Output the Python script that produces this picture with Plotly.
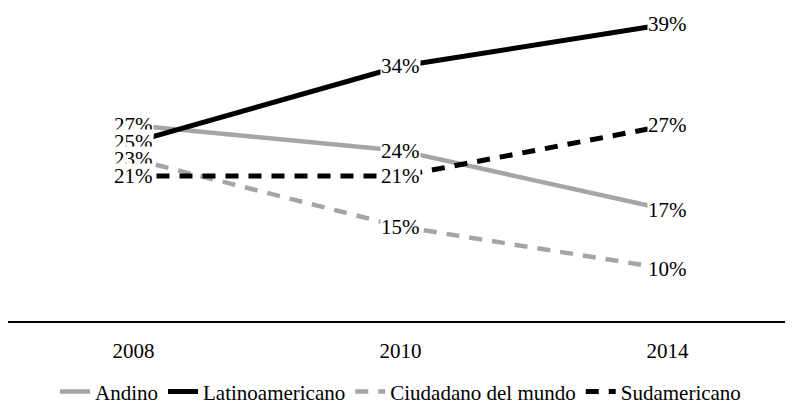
import plotly.graph_objects as go

# --- data ---
years = ["2008", "2010", "2014"]
andino = [27, 24, 17]
latinoamericano = [25, 34, 39]
ciudadano = [23, 15, 10]
sudamericano = [21, 21, 27]

GREY = "#a5a5a5"
BLACK = "#000000"
FONT = "Liberation Serif, DejaVu Serif, serif"

series = [
    ("Andino", andino, GREY, "solid", 4.5),
    ("Latinoamericano", latinoamericano, BLACK, "solid", 5),
    ("Ciudadano del mundo", ciudadano, GREY, "13px,10px", 4.5),
    ("Sudamericano", sudamericano, BLACK, "13px,10px", 5),
]

xs = list(range(len(years)))

fig = go.Figure()
for name, vals, color, dash, width in series:
    fig.add_trace(go.Scatter(
        x=xs, y=vals, name=name, mode="lines",
        line=dict(color=color, width=width, dash=dash),
    ))

# value labels sit on the points, white box hides the line beneath
for name, vals, color, dash, width in series:
    for x, v in zip(xs, vals):
        fig.add_annotation(
            x=x, y=v, text=f"{v}%", showarrow=False,
            bgcolor="white", borderpad=0,
            font=dict(family=FONT, size=21, color="black"),
        )

# page body keeps its default 8px margin, so the figure is 8px smaller
fig.update_layout(
    width=785, height=396,
    margin=dict(l=0, r=0, t=0, b=83, autoexpand=False),
    paper_bgcolor="white", plot_bgcolor="white",
    font=dict(family=FONT, size=21, color="black"),
    showlegend=True,
    legend=dict(
        orientation="h", x=0.5, xanchor="center", y=-0.226, yanchor="middle",
        font=dict(family=FONT, size=21, color="black"), itemwidth=30,
        borderwidth=0, tracegroupgap=0,
    ),
    xaxis=dict(
        range=[-0.47, 2.47], tickmode="array", tickvals=xs, ticktext=years,
        showgrid=False, zeroline=False, showline=True, linecolor="black",
        linewidth=2, ticks="", ticklabelstandoff=10,
        tickfont=dict(family=FONT, size=21, color="black"),
    ),
    yaxis=dict(range=[3.82, 40.9], visible=False, showgrid=False),
)

fig.write_html("out.html")
